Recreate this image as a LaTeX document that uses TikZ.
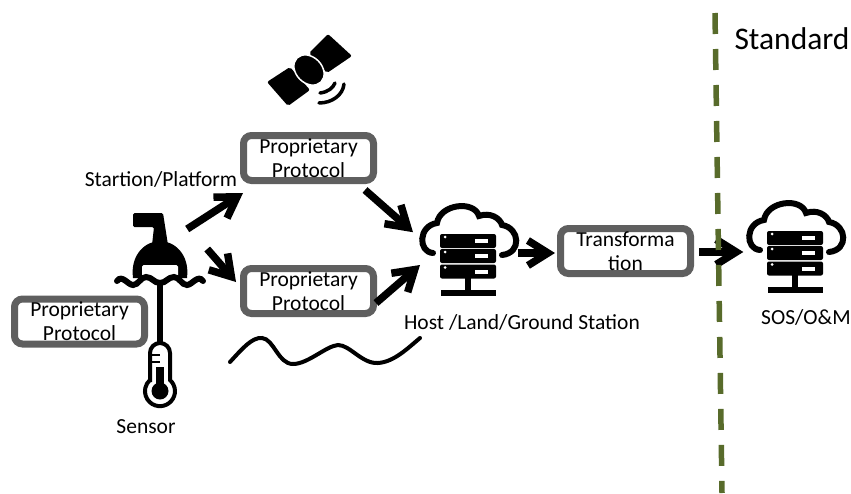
\documentclass[tikz,border=0pt]{standalone}
\usepackage{fontspec}
\setmainfont{Carlito}
\usetikzlibrary{arrows.meta,positioning}
\definecolor{boxgray}{HTML}{5F5F5F}
\definecolor{dashgreen}{HTML}{586B2B}
\tikzset{
  protobox/.style={draw=boxgray,line width=7pt,rounded corners=8pt,fill=white,
    minimum width=130pt,minimum height=45pt,inner sep=0pt,align=center,
    text width=130pt,font=\fontsize{21.5}{24}\selectfont},
  caption/.style={inner sep=0pt,font=\fontsize{21.5}{24}\selectfont},
  iconarea/.style={inner sep=0pt,minimum width=#1},
  heavyarrow/.style={line width=7.5pt,-{Straight Barb[length=20pt,width=25pt,line width=7.5pt]}},
  hostcloud/.pic={
    \draw[line width=6pt,line cap=round] (-35,3) .. controls (-50,2) and (-50,-24) .. (-31,-27)
      .. controls (-28,-46) and (6,-50) .. (11,-34)
      .. controls (22,-38) and (32,-32) .. (34,-25)
      .. controls (52,-22) and (54,3) .. (34,5);
    \foreach \row in {-9,6,21.5} {
      \fill[rounded corners=2pt] (-28,\row-7) rectangle (28,\row+7);
      \fill[white] (7,\row-2) rectangle (20,\row+2);
      \fill[white] (-23,\row-4) circle (1.5);
    }
    \fill (-3,28) rectangle (3,40);
    \fill (-27,40) rectangle (28,46);
  }
}
\begin{document}
\begin{tikzpicture}[x=1pt,y=-1pt]
  \useasboundingbox (0,0) rectangle (851,493);
  % boxes
  \node (protoA) [protobox] at (308.5,158) {Proprietary\\Protocol};
  \node (protoB) [protobox] at (308.5,291) {Proprietary\\Protocol};
  \node (protoC) [protobox] at (79.5,321.5) {Proprietary\\Protocol};
  \node (transform) [protobox] at (625.5,251) {Transforma\\tion};
  % icons
  \pic at (468,250) {hostcloud};
  \pic at (795,247) {hostcloud};
  \node (host) [iconarea=97pt,minimum height=90pt] at (468,250) {};
  \node (sos) [iconarea=97pt,minimum height=90pt] at (795,247) {};
  \node (buoy) [iconarea=90pt,minimum height=70pt] at (160,247) {};
  % buoy
  \fill[rounded corners=1.5pt] (133,213) -- (163,213) -- (168,245) -- (152,245) -- (154,227) -- (133,227) -- cycle;
  \fill (133,278) .. controls (130,254) and (146,241) .. (160,241) .. controls (174,241) and (190,254) .. (187,278) -- cycle;
  \fill[white,rounded corners=1.5pt] (142,265) rectangle (178,280);
  \draw[line width=6pt,line cap=round] (117,281) .. controls (122,274) and (128,285) .. (133,285)
    .. controls (139,285) and (140,277) .. (146,277) .. controls (152,277) and (154,283) .. (160,283)
    .. controls (166,283) and (168,277) .. (174,277) .. controls (180,277) and (181,285) .. (187,285)
    .. controls (192,285) and (198,274) .. (203,281);
  \fill (157,283) rectangle (163,343);
  % thermometer
  \draw[line width=4pt] (150,380) -- (150,353) arc[start angle=180,end angle=360,radius=10] -- (170,380)
    arc[start angle=-48,end angle=228,radius=15] -- cycle;
  \fill (156,367) rectangle (164,391);
  \fill (160,391) circle (8.5);
  \draw[line width=2.5pt] (152,355) -- (160,355) (152,362) -- (160,362);
  % satellite
  \fill[rounded corners=2pt] (328,34) -- (352,56) -- (327,73) -- (309,53) -- cycle;
  \fill[rounded corners=2pt] (267,82) -- (288,106) -- (310,90) -- (290,67) -- cycle;
  \fill[draw=white,line width=1.5pt,rotate around={-45:(309,70)}] (309,70) ellipse (17 and 13);
  \draw[line width=3.5pt,line cap=round] (320,93) .. controls (328,92) and (333,88) .. (335,83);
  \draw[line width=3.5pt,line cap=round] (319,103) .. controls (332,103) and (343,95) .. (344,84);
  % connectors
  \draw[heavyarrow] ([shift={(-18,-18)}]buoy.east) -- ([shift={(3,9)}]protoA.south west);
  \draw[heavyarrow] ([shift={(2,2)}]buoy.east) -- ([shift={(-4,-9)}]protoB.west);
  \draw[heavyarrow] ([shift={(-12,6)}]protoA.south east) -- ([shift={(-55,-63)}]host.south);
  \draw[heavyarrow] ([shift={(-1,-14)}]protoB.south east) -- ([shift={(-48,15)}]host.center);
  \draw[heavyarrow] ([shift={(1,3)}]host.east) -- ([shift={(-2,2)}]transform.west);
  \draw[heavyarrow] ([shift={(5,1)}]transform.east) -- ([shift={(-3,5)}]sos.west);
  % labels
  \node (station) [caption] at (161,179) {Startion/Platform};
  \node (hostlabel) [caption] at (522,322) {Host /Land/Ground Station};
  \node (soslabel) [caption] at (806,317) {SOS/O\&M};
  \node (sensor) [caption] at (146,427) {Sensor};
  \node (standard) [caption,font=\fontsize{31.5}{34}\selectfont] at (792,39) {Standard};
  % link and border
  \draw[line width=4pt,line cap=round] (230,362) .. controls (242,349) and (252,337) .. (262,338)
    .. controls (274,339) and (278,364) .. (293,364)
    .. controls (308,364) and (326,346) .. (338,345)
    .. controls (350,345) and (362,364) .. (378,363)
    .. controls (394,362) and (408,348) .. (420,338);
  \draw[dashgreen,line width=5.5pt,dash pattern=on 21pt off 15pt] (715,13) -- (722,493);
\end{tikzpicture}
\end{document}
